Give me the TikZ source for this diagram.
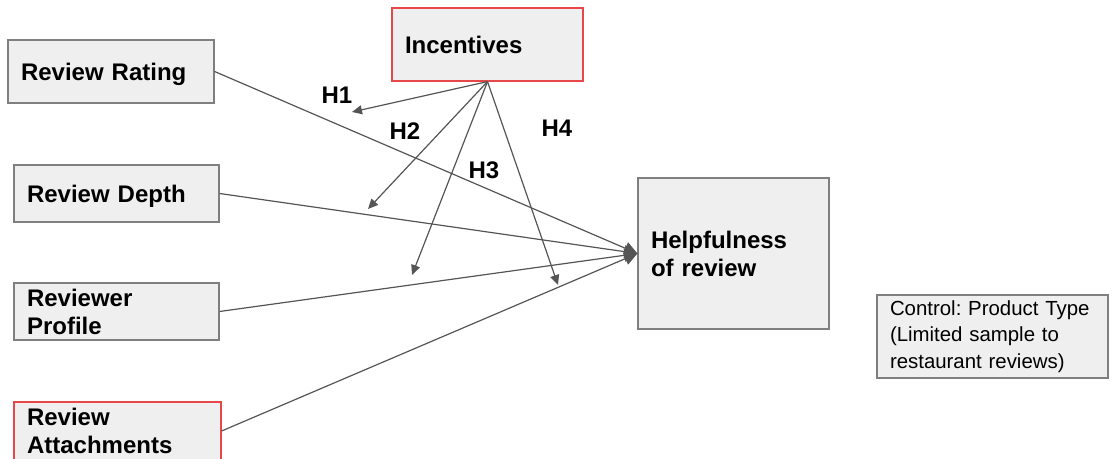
\documentclass[tikz,border=0pt]{standalone}
\usepackage{fontspec}
\setmainfont{Liberation Sans}
\usetikzlibrary{arrows.meta}
\frenchspacing
\definecolor{boxfill}{HTML}{EFEFEF}
\definecolor{boxline}{HTML}{7F7F7F}
\definecolor{redline}{HTML}{E8474A}
\definecolor{conn}{HTML}{555555}
\tikzset{
  var/.style={draw=boxline, line width=0.6pt, fill=boxfill, inner xsep=6.5pt, inner ysep=0pt,
    align=left, font=\fontsize{12}{14}\selectfont\bfseries, text=black},
  redvar/.style={var, draw=redline},
  ctrlbox/.style={var, font=\fontsize{10.2}{12.4}\selectfont},
  hyp/.style={font=\fontsize{12}{14}\selectfont\bfseries, text=black},
  main/.style={draw=conn, line width=0.6pt, -{Triangle[length=6.5pt,width=6.5pt]}},
  mod/.style={draw=conn, line width=0.6pt, -{Triangle[length=5pt,width=4.5pt]}}
}
\begin{document}
\begin{tikzpicture}[x=0.5pt,y=-0.5pt]
\useasboundingbox (0,0) rectangle (1114,459);
\node[var, text width=90pt, minimum height=31.5pt, text depth=0pt] (rr) at (111,71.5) {Review Rating};
\node[var, text width=89.5pt, minimum height=28.5pt, text depth=0pt] (rd) at (116.5,193.5) {Review Depth};
\node[var, text width=89.5pt, minimum height=28.5pt] (rp) at (116.5,311.5) {Reviewer\\Profile};
\node[redvar, text width=90.5pt, minimum height=29pt] (ra) at (117.5,431) {Review\\Attachments};
\node[redvar, text width=82.5pt, minimum height=36.5pt] (inc) at (487.5,44.5) {Incentives};
\node[var, text width=82.5pt, minimum height=75.5pt] (help) at (733.5,253.5) {Helpfulness\\of review};
\node[ctrlbox, text width=104pt, inner xsep=5.75pt, minimum height=41.5pt] (ctrl) at (992.5,336.5) {\hspace*{0.75pt}Control: Product Type\\[0.8pt]\hspace*{0.75pt}(Limited sample to\\[0.8pt]\hspace*{0.75pt}restaurant reviews)};

\coordinate (tgt) at (help.west);
\draw[main] (rr.east) -- (tgt);
\draw[main] (rd.east) -- (tgt);
\draw[main] (rp.east) -- (tgt);
\draw[main] (ra.east) -- (tgt);

\coordinate (e1) at (352,112);
\coordinate (e2) at (368,209);
\coordinate (e3) at (412,275);
\coordinate (e4) at (558,285);
\draw[mod] (inc.south) -- (e1);
\draw[mod] (inc.south) -- (e2);
\draw[mod] (inc.south) -- (e3);
\draw[mod] (inc.south) -- (e4);

\node[hyp] (h1) at (337,95) {H1};
\node[hyp] (h2) at (405,131) {H2};
\node[hyp] (h3) at (484,170) {H3};
\node[hyp] (h4) at (557,128) {H4};
\end{tikzpicture}
\end{document}
